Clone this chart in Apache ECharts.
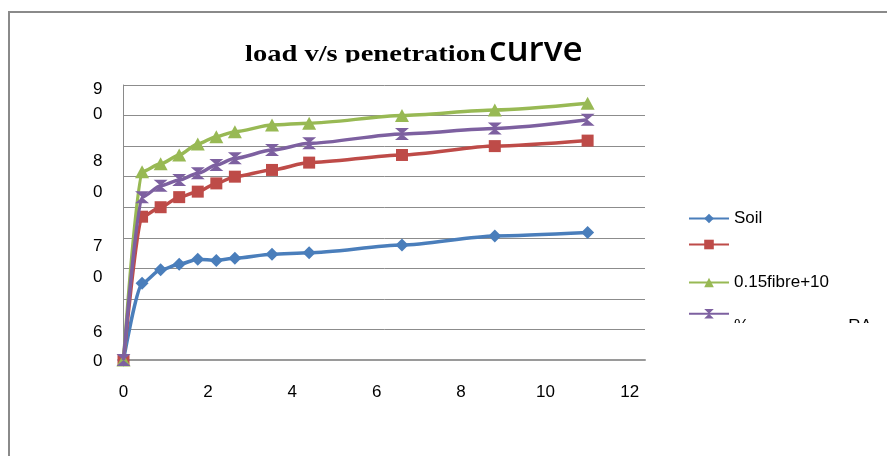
<!DOCTYPE html>
<html>
<head>
<meta charset="utf-8">
<script src="https://cdn.jsdelivr.net/npm/echarts@6/dist/echarts.min.js"></script>
<style>html,body{margin:0;padding:0;background:#fff;}#c{width:887px;height:456px;}</style>
</head>
<body>
<div id="c"></div>
<script>
const penetration = [0, 0.44, 0.88, 1.32, 1.76, 2.2, 2.64, 3.52, 4.4, 6.6, 8.8, 11];
const soil   = [0, 25.1, 29.5, 31.3, 33.0, 32.6, 33.3, 34.6, 35.1, 37.6, 40.6, 41.7];
const red    = [0, 46.9, 50.0, 53.3, 55.1, 57.8, 60.0, 62.2, 64.6, 67.1, 70.0, 71.8];
const green  = [0, 61.6, 64.2, 67.1, 70.7, 73.1, 74.7, 76.9, 77.5, 80.0, 81.8, 84.0];
const purple = [0, 53.3, 57.0, 58.9, 61.1, 63.8, 66.0, 68.7, 70.9, 74.0, 75.8, 78.6];
const seriesNames = ['Soil', ' ', '0.15fibre+10', '%                     RA'];
const yTickTexts = ['9', '0', '8', '0', '7', '0', '6', '0'];
const xTickValues = [0, 2, 4, 6, 8, 10, 12];
const titleMain = 'load v/s penetration';
const titleTail = 'curve';

const colors = ['#4A7EBB', '#BE4B48', '#98B954', '#7D60A0'];
const hourglass = 'path://M0,0 L10,0 L5,5 L10,10 L0,10 L5,5 Z';
const symbols = ['diamond', 'rect', 'triangle', hourglass];
const symSizes = [[13, 13], [12, 12], [14, 13], [14, 12]];
const allData = [soil, red, green, purple];

const chart = echarts.init(document.getElementById('c'), null, {renderer: 'canvas'});

const series = allData.map((vals, k) => ({
  name: seriesNames[k],
  type: 'line',
  data: penetration.map((x, i) => [x, vals[i]]),
  symbol: symbols[k],
  symbolSize: symSizes[k],
  smooth: 0.25,
  smoothMonotone: 'x',
  lineStyle: {color: colors[k], width: 3.5},
  itemStyle: {color: colors[k]},
  z: 2 + k
}));

const legendTops = [210, 236, 274, 309];
const legends = seriesNames.map((n, k) => ({
  data: [n],
  left: 688,
  top: legendTops[k],
  orient: 'vertical',
  itemWidth: 40,
  itemHeight: 12,
  itemGap: 0,
  padding: 0,
  selectedMode: false,
  formatter: k === 3 ? '{p|{name}}' : '{name}',
  textStyle: {fontFamily: 'Liberation Sans', fontSize: 17, color: '#000',
    rich: {p: {fontFamily: 'Liberation Sans', fontSize: 17, color: '#000', padding: [26, 0, 0, 0]}}}
}));

const yLabelTops = [90, 115, 162, 193, 247, 278, 333, 362];
const graphics = yTickTexts.map((t, i) => ({
  type: 'text',
  left: 93,
  top: yLabelTops[i] - 9,
  style: {text: t, fontFamily: 'Liberation Sans', fontSize: 17, fill: '#000'}
}));
graphics.push({
  type: 'rect', shape: {x: 9, y: 12, width: 900, height: 500},
  style: {fill: 'none', stroke: '#8a8a8a', lineWidth: 2}, z: 0, silent: true
});
graphics.push({
  type: 'text', x: 245, y: 55, scaleX: 1.24,
  style: {text: titleMain, fontFamily: 'Liberation Serif', fontWeight: 'bold', fontSize: 23,
    fill: '#000', align: 'left', verticalAlign: 'middle'}, z: 50
});
graphics.push({
  type: 'text', x: 489, y: 51.5,
  style: {text: titleTail, fontFamily: 'Open Sans', fontWeight: 600, fontSize: 35,
    fill: '#000', align: 'left', verticalAlign: 'middle'}, z: 50
});
graphics.push({
  type: 'rect', shape: {x: 730, y: 323, width: 157, height: 24},
  style: {fill: '#fff'}, z: 100, silent: true
});
graphics.push({
  type: 'rect', shape: {x: 240, y: 62.5, width: 248, height: 12},
  style: {fill: '#fff'}, z: 100, silent: true
});

chart.setOption({
  animation: false,
  backgroundColor: '#fff',
  legend: legends,
  grid: {left: 123.5, right: 242, top: 85, bottom: 96, containLabel: false},
  xAxis: {
    type: 'value', min: 0, max: 12.36, interval: 2,
    axisLine: {show: true, lineStyle: {color: '#9a9a9a', width: 2}},
    axisTick: {show: false},
    splitLine: {show: false},
    axisLabel: {
      margin: 24, fontFamily: 'Liberation Sans', fontSize: 17, color: '#000',
      showMaxLabel: false,
      formatter: v => (xTickValues.indexOf(v) >= 0 ? String(v) : '')
    }
  },
  yAxis: {
    type: 'value', min: 0, max: 90, interval: 10,
    axisLine: {show: true, lineStyle: {color: '#8a8a8a', width: 1}},
    axisTick: {show: false},
    axisLabel: {show: false},
    splitLine: {show: true, lineStyle: {color: '#8c8c8c', width: 1}}
  },
  series: series,
  graphic: graphics
});
</script>
</body>
</html>
